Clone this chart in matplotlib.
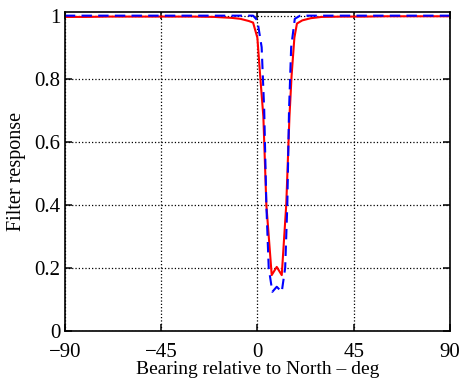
import numpy as np
import matplotlib
matplotlib.use('Agg')
import matplotlib.pyplot as plt

# Datos (grados, respuesta)
red_x = [-90, -80, -70, -60, -50, -40, -30, -20, -12, -8, -4, -2, 0, 1.3, 2.8, 4.2, 6.7, 9.05,
         11.4, 13.5, 15, 16, 17.3, 18.5, 21, 25, 30, 40, 50, 60, 70, 80, 90]
red_y = [0.996, 0.996, 0.997, 0.997, 0.997, 0.997, 0.997, 0.996, 0.993, 0.99, 0.983, 0.978, 0.93,
         0.81, 0.68, 0.40, 0.177, 0.203, 0.177, 0.40, 0.68, 0.81, 0.93, 0.975, 0.985, 0.992,
         0.996, 0.997, 0.997, 0.998, 0.998, 0.998, 0.998]

blue_x = [-90, -60, -30, -10, -2, 0, 2, 3.2, 4.2, 5.3, 7, 9.05, 11.4, 13, 14, 14.8, 15.8,
          17.5, 20, 30, 60, 90]
blue_y = [1.0, 1.0, 1.0, 1.0, 1.0, 0.985, 0.90, 0.70, 0.40, 0.20, 0.124, 0.14, 0.124, 0.20,
          0.40, 0.70, 0.90, 0.99, 1.0, 1.0, 1.0, 1.0]

xticks = [-90, -45, 0, 45, 90]
yticks = [0, 0.2, 0.4, 0.6, 0.8, 1]
ytick_labels = ['0', '0.2', '0.4', '0.6', '0.8', '1']

plt.rcParams['font.family'] = ['Liberation Serif', 'DejaVu Serif']

fig = plt.figure(figsize=(4.6, 3.83), dpi=100)
ax = fig.add_axes([0.141, 0.136, 0.837, 0.833])

ax.plot(red_x, red_y, '-', color='red', lw=1.5)
ax.plot(blue_x, blue_y, '--', color='blue', lw=1.5, dashes=(5, 3))

ax.set_xlim(-90, 90)
ax.set_ylim(0, 1.012)
ax.set_xticks(xticks)
ax.set_xticklabels(['\u221290', '\u221245', '0', '45', '90'])
ax.set_yticks(yticks)
ax.set_yticklabels(ytick_labels)
ax.grid(True, linestyle=':', color='black', lw=0.9)
ax.tick_params(direction='in', top=True, right=True, length=5, width=1.1, labelsize=15)
ax.tick_params(axis='x', pad=9)
ax.tick_params(axis='y', pad=3)
for s in ax.spines.values():
    s.set_linewidth(1.2)

ax.set_xlabel('Bearing relative to North \u2013 deg', labelpad=-1, fontsize=14)
ax.set_ylabel('Filter response', labelpad=6, fontsize=14.5)

fig.savefig('out.png', dpi=100)
